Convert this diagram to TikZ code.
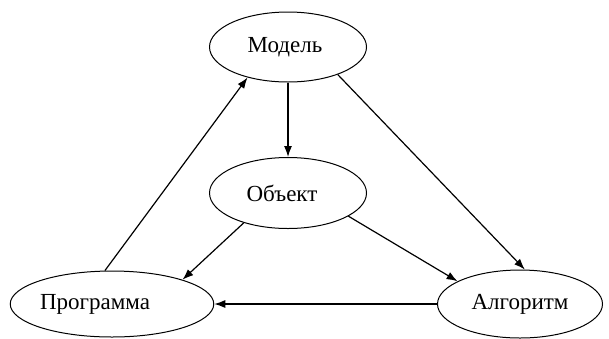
\documentclass[tikz,border=0pt]{standalone}
\usepackage{fontspec}
\setmainfont{Liberation Serif}
\usetikzlibrary{shapes.geometric,arrows.meta}

\begin{document}
\begin{tikzpicture}
[
	x=1pt, y=-1pt,
	block/.style={ellipse,draw,line width=1pt,inner sep=0pt,font=\fontsize{23}{27}\selectfont},
	link/.style={-{Latex[length=11pt,width=8pt]},line width=1.2pt}
]

	\useasboundingbox (0,0) rectangle (609,338);

	% nodes
	\node[block,minimum width=157pt,minimum height=70pt] (model) at (288,47) {Модель\hspace*{6pt}};
	\node[block,minimum width=157pt,minimum height=71pt] (object) at (288,193) {Объект\hspace*{12pt}};
	\node[block,minimum width=200pt,minimum height=66pt] (program) at (112,304) {Программа\hspace*{34pt}};
	\node[block,minimum width=165pt,minimum height=68pt] (algorithm) at (520,304) {Алгоритм};

	% arrows
	\draw[link] (program.102) -- (model.217);
	\draw[link] (model.south) -- (object.north);
	\draw[link] (model.331) -- (algorithm.82);
	\draw[link] (object.214) -- (program.19);
	\draw[link] (object.339) -- (algorithm.160);
	\draw[link] (algorithm.west) -- (program.east);

\end{tikzpicture}
\end{document}
